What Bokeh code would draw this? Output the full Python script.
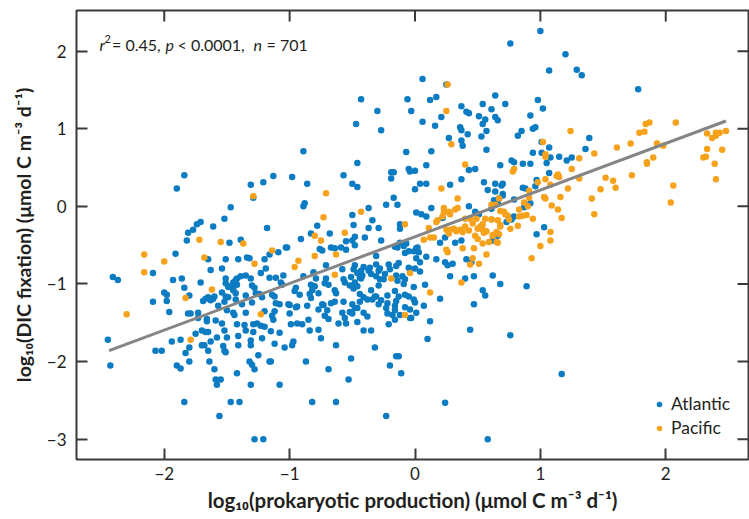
from bokeh.plotting import figure
from bokeh.models import Range1d, Legend, LegendItem, Label, FixedTicker
from bokeh.embed import file_html
from bokeh.resources import INLINE

# ---------------- data (log10 values) ----------------
atl_x = [
    -0.43, -0.30, -0.47, -0.89, -0.27, -0.06, -0.03, 0.06, 0.06, 0.12,
    0.17, 0.16, 0.21, 0.25, 0.27, 0.37, 0.36, 0.37, 0.41, 0.43,
    0.42, 0.37, 0.38, 0.54, 0.51, 0.56, 0.54, 0.61, 0.64, 0.64,
    0.66, 0.57, 0.53, 0.57, 0.72, 0.76, 0.82, 0.85, 0.92, 0.94,
    0.96, 0.98, 1.02, 1.00, 1.01, 0.94, 1.07, 1.07, 1.20, 1.29,
    1.33, 1.39, 1.36, 1.78, 1.15, 1.25,
    # left cluster
    -1.84, -1.90, -1.31, -1.21, -1.13, -1.29, -1.47, -1.52, -1.61, -1.71,
    -1.74, -1.77, -1.81, -1.82, -1.48, -1.39, -1.18, -1.02, -1.09, -1.16,
    -1.91, -1.65, -1.51, -1.41, -1.34, -1.32, -1.20, -1.54, -1.63, -1.19,
    -1.23, -2.41, -2.37, -2.09, -1.93, -1.86, -1.84, -1.71, -1.35, -1.31,
    -1.28, -1.30, -1.42, -1.43, -1.45, -1.47, -1.51, -1.49, -1.45, -1.54,
    -1.51, -1.49, -1.43, -1.43, -1.35, -1.24, -1.22, -1.16, -1.11, -1.05,
    -1.07, -1.14, -1.12, -1.11, -1.08, -1.01, -2.00, -1.98, -2.09, -1.98,
    -1.80, -1.69, -1.67, -1.65, -1.61, -1.63, -1.60, -1.57, -1.38, -1.30,
    -1.51, -1.39, -1.42, -1.45, -1.27, -1.52, -1.13, -1.35, -1.15, -1.08,
    -1.41, -1.50,
    # centre
    -0.07, 0.13, -0.46, -0.05, -0.04, 0.00, 0.09, -0.19, -0.17, -0.19,
    -0.57, -0.98, -0.86, -0.50, -0.46, 0.04, 0.09, 0.28, 0.37, 0.43,
    0.48, 0.55, 0.58, 0.64, 0.68, -0.17, -0.23, -0.14, -0.37, -0.50,
    -0.88, -0.89, 0.01, 0.05, 0.09, 0.13, 0.22, 0.43, 0.48, 0.51,
    0.64, 0.67, 0.61, -0.34, -0.29, -0.12, -0.12, -0.49, -0.37, -0.78,
    -0.68, -0.83, -0.91, -1.03, -0.55, -0.48, -0.50, -0.40, -0.76, -0.74,
    -0.67, -0.64, -0.59, -0.55, -0.48, -0.27, -0.16, -0.12, -0.14, -0.09,
    -0.07, -0.05, -0.01, 0.01, 0.02, 0.03, -0.08, 0.09, 0.01, 0.04,
    0.17, 0.20, 0.24, 0.32, 0.37, 0.41, 0.45, 0.24, 0.26, 0.30,
    0.28, 0.08, 0.20, -0.01, 0.04, -0.05, -0.04, 0.00, -0.13, -0.15,
    -0.21, -0.20, -0.28, -0.29, -0.24, -0.25, -0.28, -0.31, -0.36, -0.37,
    -0.35, -0.41, -0.43, -0.48, -0.49, -0.46, -0.42, -0.51, -0.44, -0.43,
    -0.48, -0.52, -0.49, -0.46, -0.58, -0.57, -0.56, -0.64, -0.63, -0.71,
    -0.72, -0.69, -0.79, -0.80, -0.83, -0.82, -0.84, -0.92, -0.95, -0.96,
    -0.89, -1.06, -1.00, -0.94, -0.74, -0.67, -0.64, -0.57, -0.50, -0.44,
    -0.38, -0.31, -0.27, -0.29, -0.22, -0.16, -0.15, -0.08, -0.05, 0.00,
    0.07, -0.41, -0.34, -0.32, -0.44, 0.47, 0.54, 0.56, 0.40, 0.47,
    0.62, 0.68, 0.62, 0.66, -0.71, -0.81, -0.31, -0.31, -0.15, -0.10,
    -0.08, -0.09, -0.14, -0.16, -0.13, -0.22, -0.08, -0.04, -0.01, -0.12,
    -0.16, -0.38, -0.48, -0.46, -0.56, -0.69, -0.77, -0.86, -0.83, -0.77,
    -0.35, -0.29,
    # right of centre
    1.01, 1.21, 1.08, 1.05, 0.77, 0.79, 0.86, 0.92, 1.07, 0.70,
    0.69, 0.64, 0.70, 0.70, 0.86, 0.88, 0.96, 0.79, 0.63, 0.66,
    0.87, 0.92, 0.79, 0.77, 0.73, 1.03, 0.97, 0.89, 0.00, 0.97,
    # lower part
    -2.45, -2.43, -2.07, -2.02, -1.94, -1.87, -1.83, -1.80, -1.80, -1.90,
    -1.87, -1.96, -1.81, -1.79, -1.73, -1.75, -1.70, -1.67, -1.65, -1.70,
    -1.68, -1.65, -1.63, -1.73, -1.66, -1.66, -1.64, -1.60, -1.59, -1.55,
    -1.58, -1.56, -1.84, -1.59, -1.54, -1.52, -1.58, -1.53, -1.52, -1.51,
    -1.50, -1.45, -1.44, -1.42, -1.36, -1.35, -1.29, -1.31, -1.31, -1.29,
    -1.26, -1.23, -1.20, -1.41, -1.42, -1.32, -1.30, -1.28, -1.31, -1.25,
    -1.22, -1.47, -1.40, -1.28, -1.21, -1.20, -1.12, -1.14, -1.12, -1.16,
    -1.15, -1.08, -1.04, -1.00, -0.99, -0.94, -0.90, -0.98, -0.97, -0.95,
    -0.85, -0.84, -0.73, -0.70, -0.72, -0.77, -0.75, -0.87, -0.82, -0.69,
    -0.63, -0.63, -0.61, -0.55, -0.58, -0.52, -0.50, -0.51, -0.53, -0.46,
    -0.41, -0.41, -0.35, -0.32, -0.23, -0.23, -0.22, -0.21, -0.20, -0.18,
    -0.16, -0.15, -0.13, -0.11, -0.04,
    0.01, -0.03, 0.12, 0.10, 0.44, 0.76, 1.17, 0.24, 0.58,
]
atl_y = [
    1.38, 1.23, 1.06, 0.71, 0.98, 1.38, 1.23, 1.64, 1.09, 1.37,
    1.41, 1.04, 1.15, 1.57, 0.88, 1.29, 1.02, 0.98, 1.22, 1.20,
    0.93, 0.85, 0.78, 1.32, 1.16, 1.12, 1.06, 1.25, 1.43, 1.15,
    1.11, 0.97, 0.90, 0.73, 1.32, 2.10, 0.91, 0.97, 1.17, 1.00,
    1.02, 1.37, 1.26, 2.26, 0.83, 0.69, 1.75, 0.76, 1.96, 1.76,
    1.69, 0.88, 0.74, 1.51, 0.64, 0.63,
    # left cluster
    0.40, 0.23, 0.28, 0.31, 0.39, 0.11, -0.01, -0.16, -0.26, -0.20,
    -0.23, -0.30, -0.34, -0.44, -0.47, -0.43, -0.28, -0.53, -0.59, -0.62,
    -0.61, -0.68, -0.68, -0.68, -0.66, -0.67, -0.68, -0.80, -0.82, -0.80,
    -0.86, -0.91, -0.95, -0.86, -0.95, -0.93, -1.05, -0.98, -0.89, -0.93,
    -1.05, -1.02, -0.93, -0.95, -0.98, -1.03, -0.99, -1.04, -1.05, -1.11,
    -1.16, -1.17, -1.12, -1.20, -1.15, -1.13, -1.17, -0.92, -0.92, -0.89,
    -0.98, -1.14, -1.16, -1.25, -1.26, -1.26, -1.11, -1.14, -1.23, -1.22,
    -1.15, -1.22, -1.19, -1.17, -1.19, -1.21, -1.16, -1.28, -1.26, -1.24,
    -0.93, -0.90, -1.01, -1.08, -1.12, -1.23, -1.46, -1.37, -1.61, -1.63,
    -1.67, -1.69,
    # centre
    0.70, 0.71, 0.56, 0.48, 0.45, 0.46, 0.53, 0.44, 0.44, 0.36,
    0.40, 0.38, 0.29, 0.29, 0.25, 0.29, 0.29, 0.28, 0.35, 0.47,
    0.48, 0.31, 0.21, 0.29, 0.53, 0.11, 0.02, 0.02, -0.02, -0.11,
    0.04, 0.00, -0.08, -0.10, -0.13, -0.02, -0.15, 0.00, -0.07, -0.10,
    0.07, 0.10, -0.03, -0.18, -0.28, -0.23, -0.29, -0.24, -0.28, -0.25,
    -0.35, -0.35, -0.42, -0.53, -0.45, -0.39, -0.44, -0.40, -0.55, -0.57,
    -0.53, -0.54, -0.53, -0.56, -0.50, -0.44, -0.52, -0.47, -0.53, -0.51,
    -0.48, -0.58, -0.58, -0.54, -0.53, -0.59, -0.60, -0.65, -0.67, -0.72,
    -0.68, -0.47, -0.40, -0.47, -0.44, -0.68, -0.72, -0.72, -0.76, -0.74,
    -0.90, -1.01, -1.19, -1.04, -0.84, -0.79, -0.81, -0.80, -0.73, -0.77,
    -0.75, -0.81, -0.80, -0.83, -0.87, -0.94, -0.94, -0.90, -0.79, -0.83,
    -0.87, -0.78, -0.83, -0.76, -0.81, -0.86, -0.89, -0.91, -0.92, -0.93,
    -0.98, -1.02, -1.06, -1.03, -0.81, -0.94, -0.98, -1.08, -1.12, -0.93,
    -0.99, -1.01, -0.93, -1.03, -1.01, -1.08, -1.13, -1.14, -1.05, -1.09,
    -0.90, -1.01, -1.27, -1.29, -1.26, -1.25, -1.23, -1.23, -1.26, -1.23,
    -1.20, -1.16, -1.21, -1.26, -1.25, -1.28, -1.22, -1.14, -1.16, -1.24,
    -1.28, -1.17, -1.20, -1.16, -1.13, -1.26, -1.08, -1.15, -0.93, -0.90,
    -0.89, -1.00, -0.44, -0.38, -0.76, -0.85, -0.64, -0.75, -0.89, -0.90,
    -0.94, -1.00, -0.96, -1.09, -1.16, -1.15, -1.30, -1.33, -1.20, -1.40,
    -1.46, -1.42, -1.31, -1.49, -1.44, -1.45, -1.33, -1.28, -1.18, -1.12,
    -1.08, -1.02,
    # right of centre
    0.69, 0.59, 0.63, 0.56, 0.59, 0.57, 0.55, 0.55, 0.43, 0.29,
    0.27, 0.19, 0.16, 0.14, 0.24, 0.23, 0.26, 0.09, 0.08, 0.05,
    -0.01, 0.04, -0.13, -0.17, -0.20, -0.27, -0.36, -1.03, 0.22, 0.34,
    # lower part
    -1.72, -2.05, -1.86, -1.86, -1.74, -1.72, -1.89, -1.82, -2.00, -2.05,
    -2.09, -1.36, -1.38, -1.38, -1.37, -1.64, -1.60, -1.62, -1.62, -1.79,
    -1.79, -1.86, -1.74, -1.44, -1.45, -1.48, -2.00, -2.10, -2.23, -2.23,
    -2.30, -2.70, -2.52, -1.47, -1.51, -1.60, -1.69, -1.80, -1.86, -1.88,
    -1.34, -1.37, -1.40, -1.52, -1.53, -1.60, -1.62, -1.73, -1.79, -1.52,
    -1.51, -1.54, -1.55, -1.79, -2.15, -2.00, -2.04, -2.10, -2.30, -1.92,
    -1.70, -2.52, -2.52, -3.00, -3.00, -1.35, -1.35, -1.41, -1.77, -2.00,
    -2.00, -2.30, -1.82, -1.38, -1.52, -1.51, -1.52, -1.79, -1.74, -1.30,
    -1.46, -1.60, -1.27, -1.34, -1.41, -1.59, -1.70, -2.00, -2.52, -2.10,
    -1.79, -2.52, -1.51, -1.51, -1.37, -1.36, -1.38, -1.96, -2.23, -1.31,
    -1.37, -1.60, -1.60, -1.82, -2.70, -1.31, -1.38, -1.52, -2.05, -1.40,
    -1.34, -1.93, -1.93, -2.15, -1.44,
    -1.37, -1.44, -1.48, -1.71, -1.59, -1.66, -2.16, -2.53, -3.00,
]

pac_x = [
    0.26, 0.25, 0.29, 1.02, 1.04, 1.04, 1.24, 1.31, 1.43, 1.61,
    1.72, 1.79, 1.83, 1.84, 1.87, 1.93, 1.98, 2.08, 1.90, 2.33,
    2.40, 2.43, 2.48, 2.37, 2.40, 2.33, 2.45, 2.30, 2.32,
    -1.29, -1.72, -1.55, -1.37, -1.14, -2.16, -2.00, -1.68, -1.28, -2.16,
    -1.62, -1.83,
    -0.71, -0.43, -0.73, -0.80, -0.75, -0.56, -0.80, -0.63, -0.93, -0.96,
    -0.64, -0.19, -0.04, -0.08, 0.12, 0.37, 0.21, 0.34, 0.40, 0.23,
    0.23, 0.27, 0.28, 0.32, 0.34, 0.17, 0.18, 0.11, 0.12, 0.15,
    0.07, 0.25, 0.28, 0.31, 0.33, 0.36, 0.38, 0.40, 0.43, 0.46,
    0.50, 0.52, 0.54, 0.55, 0.48, 0.50, 0.57, 0.61, 0.62, 0.68,
    0.67, 0.25, 0.26, 0.38, 0.47, 0.57, 0.46, 0.51, 0.61, 0.64,
    1.85, 1.85, 2.39, 2.40, 2.06, 2.04, 1.73, 1.52, 1.58, 1.60,
    1.48, 1.41, 1.43, 1.31, 1.25, 1.22, 1.14, 1.13, 1.15, 0.79,
    0.78, 1.04, 1.08, 0.98, 0.91, 1.03, 1.04, 1.16, 0.91, 0.87,
    0.67, 1.09, 1.14, 0.83, 0.71, 0.72, 0.74, 0.75, 0.83, 0.86,
    0.89, 0.66, 0.68, 0.61, 0.82, 0.76, 0.65, 0.62, 0.65, 0.66,
    1.17, 1.08, 1.08, 1.00, 0.93,
    -2.30, -1.23, -1.79, -0.08,
    0.22, 0.27, 0.40, 0.44, 0.49, 0.54, 0.54, 0.56, 0.68, 0.59,
    0.44, 0.90, 0.94,
]
pac_y = [
    1.57, 1.23, 0.80, 0.83, 0.67, 0.64, 0.97, 0.62, 0.68, 0.76,
    0.81, 0.95, 0.96, 1.06, 1.08, 0.81, 0.78, 1.08, 0.63, 0.94,
    0.95, 0.95, 0.97, 0.88, 0.91, 0.74, 0.73, 0.63, 0.64,
    0.13, -0.43, -0.46, -0.48, -0.57, -0.62, -0.71, -0.66, -0.74, -0.85,
    -1.07, -1.18,
    0.17, -0.07, -0.14, -0.38, -0.44, -0.34, -0.64, -0.62, -0.70, -0.78,
    -0.88, -0.93, -0.86, -0.23, -1.11, -0.98, 0.23, 0.10, 0.54, -0.02,
    -0.08, -0.07, -0.10, -0.04, -0.02, -0.20, -0.18, -0.28, -0.40, -0.40,
    -0.43, -0.30, -0.30, -0.29, -0.32, -0.30, -0.33, -0.26, -0.31, -0.22,
    -0.29, -0.26, -0.30, -0.34, -0.38, -0.42, -0.32, -0.17, -0.37, -0.26,
    -0.36, -0.56, -0.59, -0.54, -0.54, -0.62, -0.67, -0.74, 0.02, 0.02,
    0.57, 0.55, 0.55, 0.35, 0.27, 0.05, 0.40, 0.37, 0.33, 0.24,
    0.22, 0.10, -0.10, 0.36, 0.48, 0.23, 0.41, 0.39, 0.38, 0.48,
    0.45, 0.35, 0.28, 0.31, 0.20, 0.12, 0.10, 0.12, 0.11, 0.05,
    0.10, 0.01, -0.04, -0.04, -0.07, -0.10, -0.12, -0.17, -0.13, -0.12,
    -0.11, -0.18, -0.24, -0.17, -0.25, -0.29, -0.33, -0.38, -0.46, -0.47,
    -0.15, -0.33, -0.44, -0.51, -0.67,
    -1.39, -1.39, -1.72, -1.40,
    -0.13, -0.35, -0.16, -0.16, -0.16, -0.23, -0.48, -0.16, -0.06, -0.46,
    -0.75, 0.00, -0.16,
]

assert len(atl_x) == len(atl_y), (len(atl_x), len(atl_y))
assert len(pac_x) == len(pac_y), (len(pac_x), len(pac_y))

# regression line (reported fit)
fit_slope = 0.6016
fit_intercept = -0.392
fit_x = [-2.44, 2.48]
fit_y = [fit_slope * v + fit_intercept for v in fit_x]

x_ticks = [-2, -1, 0, 1, 2]
y_ticks = [-3, -2, -1, 0, 1, 2]
X_MIN, X_MAX = -2.70, 2.66
Y_MIN, Y_MAX = -3.262, 2.524
x_label = "log\u2081\u2080(prokaryotic production) (\u03bcmol C m\u207b\u00b3 d\u207b\u00b9)"
y_label = "log\u2081\u2080(DIC fixation) (\u03bcmol C m\u207b\u00b3 d\u207b\u00b9)"
# statistics annotation, split so that r, p and n can be italic (pixel offsets from its start)
stats_parts = [("r", "italic", 0), ("2", "sup", 5), ("= 0.45,", "normal", 12.5),
               ("p", "italic", 66), ("< 0.0001,", "normal", 78),
               ("n", "italic", 154), ("= 701", "normal", 167)]

BLUE = "#0b7bc2"
ORANGE = "#f6a21c"
INK = "#231f20"
FRAME = "#3a3a3a"
FONT = "Lato"

p = figure(width=749, height=519, output_backend="svg", toolbar_location=None,
           x_range=Range1d(X_MIN, X_MAX), y_range=Range1d(Y_MIN, Y_MAX),
           min_border_left=76, min_border_right=1, min_border_top=10, min_border_bottom=60,
           x_axis_label=x_label, y_axis_label=y_label)
p.background_fill_color = "white"
p.border_fill_color = "white"
p.grid.visible = False
p.outline_line_color = FRAME
p.outline_line_width = 2

xb = p.below[0]
yl = p.left[0]
xb.ticker = FixedTicker(ticks=x_ticks)
yl.ticker = FixedTicker(ticks=y_ticks)
for ax in (xb, yl):
    ax.axis_line_color = None
    ax.major_tick_in = 11
    ax.major_tick_out = 0
    ax.major_tick_line_color = FRAME
    ax.major_tick_line_width = 2
    ax.minor_tick_line_color = None
    ax.major_label_text_font = FONT
    ax.major_label_text_font_size = "17px"
    ax.major_label_text_color = INK
    ax.axis_label_text_font = FONT
    ax.axis_label_text_font_style = "bold"
    ax.axis_label_text_color = INK
xb.axis_label_text_font_size = "20.5px"
yl.axis_label_text_font_size = "19.5px"
xb.major_label_overrides = {t: ("\u2212" + str(-t) if t < 0 else str(t)) for t in x_ticks}
yl.major_label_overrides = {t: ("\u2212" + str(-t) if t < 0 else str(t)) for t in y_ticks}
xb.major_label_standoff = 7
yl.major_label_standoff = 10
xb.axis_label_standoff = 5
yl.axis_label_standoff = 9

# inward ticks on the top and right frame edges
tick_dy = 11 / 77.6
tick_dx = 11 / 125.4
p.segment(x0=x_ticks, y0=[Y_MAX] * len(x_ticks), x1=x_ticks, y1=[Y_MAX - tick_dy] * len(x_ticks),
          line_color=FRAME, line_width=2)
p.segment(x0=[X_MAX] * len(y_ticks), y0=y_ticks, x1=[X_MAX - tick_dx] * len(y_ticks), y1=y_ticks,
          line_color=FRAME, line_width=2)

r_atl = p.scatter(atl_x, atl_y, marker="circle", size=6.5, fill_color=BLUE, line_color=None)
r_pac = p.scatter(pac_x, pac_y, marker="circle", size=6.5, fill_color=ORANGE, line_color=None)
p.line(fit_x, fit_y, line_color="#858585", line_width=3)

anchor_x, anchor_y = -2.516, 2.08
for txt, style, off in stats_parts:
    if style == "sup":
        lab = Label(x=anchor_x, y=anchor_y, x_offset=off, y_offset=5.5, text=txt,
                    text_font=FONT, text_font_size="11px", text_color=INK,
                    text_baseline="alphabetic")
    else:
        lab = Label(x=anchor_x, y=anchor_y, x_offset=off, text=txt, text_font=FONT,
                    text_font_size="16px", text_font_style=style, text_color=INK,
                    text_baseline="alphabetic")
    p.add_layout(lab)

legend = Legend(items=[LegendItem(label="Atlantic", renderers=[r_atl]),
                       LegendItem(label="Pacific", renderers=[r_pac])],
                location=(576, 21), border_line_color=None, background_fill_alpha=0,
                label_text_font=FONT, label_text_font_size="17.5px", label_text_color=INK,
                glyph_width=14, glyph_height=20, label_standoff=5, spacing=3,
                padding=0, margin=0)
p.add_layout(legend)

open("out.html", "w").write(file_html(p, INLINE))
